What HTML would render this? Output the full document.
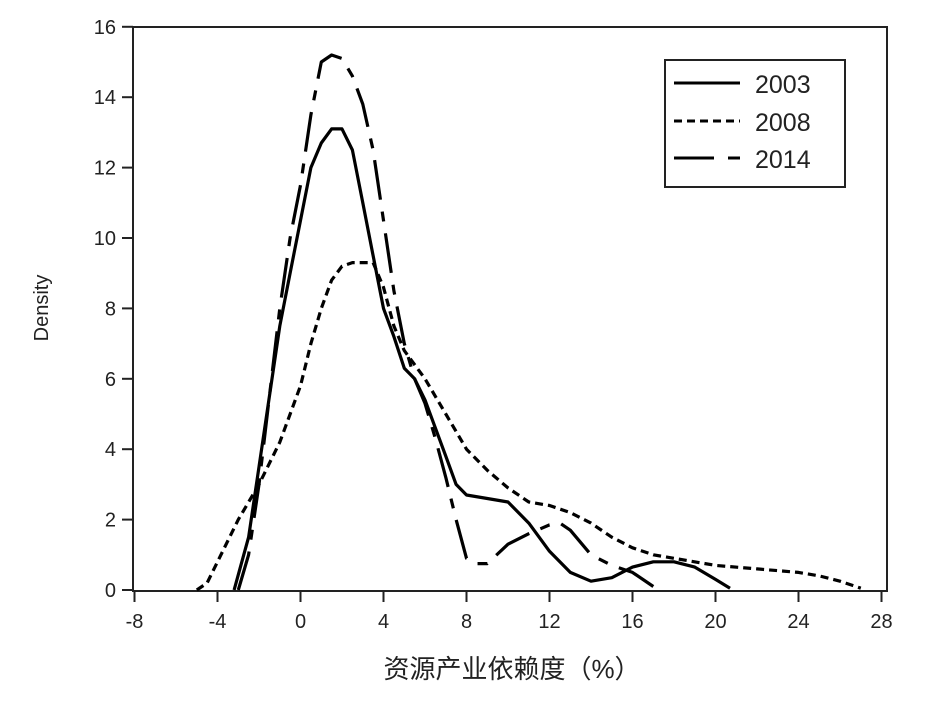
<!DOCTYPE html>
<html><head><meta charset="utf-8"><style>
body{margin:0;background:#fff}
svg{display:block}
text{font-family:"Liberation Sans","Noto Sans CJK SC",sans-serif;fill:#222}
</style></head><body>
<svg id="chart" width="941" height="708">
<rect x="133" y="27" width="754" height="564" fill="none" stroke="#222" stroke-width="2"/>
<g id="axes"></g>
<g id="series"></g>
<text x="48" y="308" font-size="20" text-anchor="middle" transform="rotate(-90 48 308)">Density</text>
<text x="512" y="678" font-size="26" text-anchor="middle">资源产业依赖度（%）</text>
<g>
<rect x="665" y="60" width="180" height="127" fill="#fff" stroke="#222" stroke-width="2"/>
<line x1="674" y1="83" x2="740" y2="83" stroke="#000" stroke-width="3"/>
<text x="755" y="93" font-size="25">2003</text>
<line x1="674" y1="121" x2="740" y2="121" stroke="#000" stroke-width="3" stroke-dasharray="8 5"/>
<text x="755" y="131" font-size="25">2008</text>
<line x1="674" y1="158" x2="740" y2="158" stroke="#000" stroke-width="3" stroke-dasharray="40 14 12 0"/>
<text x="755" y="168" font-size="25">2014</text>
</g>
</svg>
<script>
const xTicks=[-8,-4,0,4,8,12,16,20,24,28];
const yTicks=[0,2,4,6,8,10,12,14,16];
const x2003=[-3.2,-2.5,-2,-1.5,-1,-0.5,0,0.5,1,1.5,2,2.5,3,3.5,4,4.5,5,5.5,6,6.5,7,7.5,8,9,10,11,12,13,14,15,16,17,18,19,20,20.7];
const y2003=[0,1.5,3.5,5.5,7.5,9,10.5,12,12.7,13.1,13.1,12.5,11,9.5,8,7.2,6.3,6,5.4,4.6,3.8,3,2.7,2.6,2.5,1.9,1.1,0.5,0.25,0.35,0.65,0.8,0.8,0.65,0.3,0.05];
const x2008=[-5,-4.5,-4,-3,-2,-1,0,0.5,1,1.5,2,2.5,3,3.5,4,4.5,5,6,7,8,9,10,11,12,13,14,15,16,17,18,20,22,24,25,26,27];
const y2008=[0,0.2,0.8,2,3,4.2,5.8,7,8,8.8,9.2,9.3,9.3,9.3,8.6,7.5,6.8,6,5,4,3.4,2.9,2.5,2.4,2.2,1.9,1.5,1.2,1.0,0.9,0.7,0.6,0.5,0.4,0.25,0.05];
const x2014=[-3,-2.5,-2,-1.5,-1,-0.5,0,0.5,1,1.5,2,2.5,3,3.5,4,4.5,5,5.5,6,6.5,7,7.5,8,8.5,9,10,11,12,12.5,13,14,15,16,17];
const y2014=[0,1,3,5.5,8,10,11.5,13.5,15,15.2,15.1,14.6,13.8,12.5,10.5,8.5,7,6,5.3,4.3,3.2,2.0,0.9,0.75,0.75,1.3,1.6,1.85,1.9,1.7,1.0,0.7,0.5,0.1];
const NS="http://www.w3.org/2000/svg";
const sx=v=>300.5+v*20.75;
const sy=v=>590-v*35.2;
const axes=document.getElementById('axes');
function mk(tag,attrs,parent){const e=document.createElementNS(NS,tag);for(const k in attrs)e.setAttribute(k,attrs[k]);parent.appendChild(e);return e;}
xTicks.forEach(t=>{
 const l=mk('line',{x1:sx(t),x2:sx(t),y1:591,y2:602,stroke:'#222','stroke-width':2},axes);
 
 
 const tx=mk('text',{x:sx(t),y:628,'font-size':20,'text-anchor':'middle'},axes);
 tx.textContent=t;
 
 
});
yTicks.forEach(t=>{
 const l=mk('line',{x1:122,x2:133,y1:sy(t),y2:sy(t),stroke:'#222','stroke-width':2},axes);
 
 
 const tx=mk('text',{x:116,y:sy(t)+7,'font-size':20,'text-anchor':'end'},axes);
 tx.textContent=t;
 
 
});
const ser=document.getElementById('series');
function line(xs,ys,dash,name){
 const d=xs.map((x,i)=>(i?'L':'M')+sx(x).toFixed(1)+','+sy(ys[i]).toFixed(1)).join(' ');
 const p=mk('path',{d:d,fill:'none',stroke:'#000','stroke-width':3.2,'stroke-linejoin':'round'},ser);
 if(dash)p.setAttribute('stroke-dasharray',dash);
 
 
}
line(x2003,y2003,null,'line-2003');
line(x2008,y2008,'8 5','line-2008');
line(x2014,y2014,'40 12 10 12','line-2014');
</script>
</body></html>
